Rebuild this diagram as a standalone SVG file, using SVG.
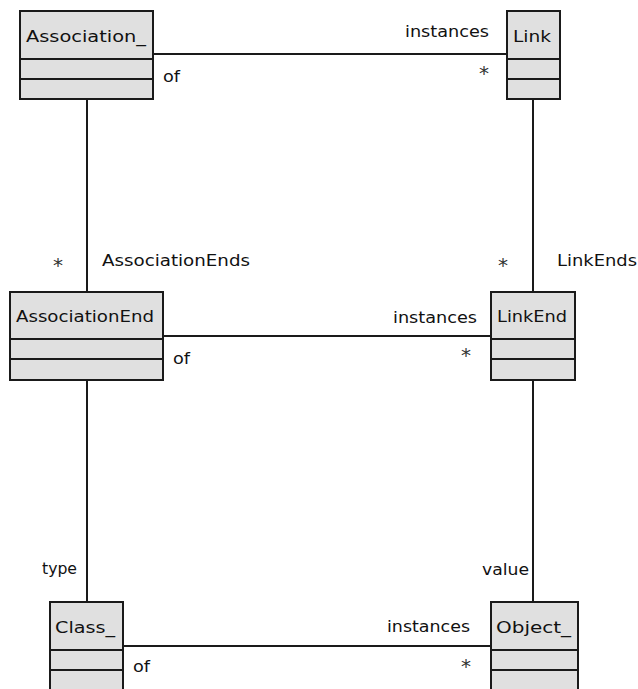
<svg xmlns="http://www.w3.org/2000/svg" width="638" height="689" viewBox="0 0 638 689">
<style>
.box{fill:#e0e0e0;stroke:#1a1a1a;stroke-width:2}
.div{stroke:#1a1a1a;stroke-width:2}
.conn{stroke:#1a1a1a;stroke-width:2;fill:none}
text{font-family:"DejaVu Sans","Liberation Sans",sans-serif;font-size:16px;fill:#111}
.star{font-size:20px;fill:#333}
</style>
<rect width="638" height="689" fill="#fff"/>
<g id="connectors">
<line class="conn" x1="153" y1="54" x2="507" y2="54"/>
<line class="conn" x1="87" y1="99" x2="87" y2="292"/>
<line class="conn" x1="533" y1="99" x2="533" y2="292"/>
<line class="conn" x1="163" y1="336" x2="491" y2="336"/>
<line class="conn" x1="87" y1="380" x2="87" y2="602"/>
<line class="conn" x1="533" y1="380" x2="533" y2="602"/>
<line class="conn" x1="123" y1="646" x2="491" y2="646"/>
<text x="163" y="82" textLength="17" lengthAdjust="spacingAndGlyphs">of</text>
<text x="405" y="37" textLength="84" lengthAdjust="spacingAndGlyphs">instances</text>
<text class="star" x="479" y="80">*</text>
<text class="star" x="53" y="272">*</text>
<text x="102" y="266" textLength="148" lengthAdjust="spacingAndGlyphs">AssociationEnds</text>
<text class="star" x="498" y="272">*</text>
<text x="557" y="266" textLength="80" lengthAdjust="spacingAndGlyphs">LinkEnds</text>
<text x="173" y="364" textLength="17" lengthAdjust="spacingAndGlyphs">of</text>
<text x="393" y="323" textLength="84" lengthAdjust="spacingAndGlyphs">instances</text>
<text class="star" x="461" y="362">*</text>
<text x="42" y="574" textLength="35" lengthAdjust="spacingAndGlyphs">type</text>
<text x="482" y="575" textLength="47" lengthAdjust="spacingAndGlyphs">value</text>
<text x="133" y="672" textLength="17" lengthAdjust="spacingAndGlyphs">of</text>
<text x="387" y="632" textLength="83" lengthAdjust="spacingAndGlyphs">instances</text>
<text class="star" x="461" y="673">*</text>
</g>
<g id="Association_">
<rect class="box" x="20" y="11" width="133" height="88"/>
<line class="div" x1="20" y1="59" x2="153" y2="59"/>
<line class="div" x1="20" y1="79" x2="153" y2="79"/>
<text x="26" y="42" textLength="120" lengthAdjust="spacingAndGlyphs">Association_</text>
</g>
<g id="Link">
<rect class="box" x="507" y="11" width="53" height="88"/>
<line class="div" x1="507" y1="59" x2="560" y2="59"/>
<line class="div" x1="507" y1="79" x2="560" y2="79"/>
<text x="513" y="42" textLength="38" lengthAdjust="spacingAndGlyphs">Link</text>
</g>
<g id="AssociationEnd">
<rect class="box" x="10" y="292" width="153" height="88"/>
<line class="div" x1="10" y1="339" x2="163" y2="339"/>
<line class="div" x1="10" y1="359" x2="163" y2="359"/>
<text x="16" y="322" textLength="138" lengthAdjust="spacingAndGlyphs">AssociationEnd</text>
</g>
<g id="LinkEnd">
<rect class="box" x="491" y="292" width="84" height="88"/>
<line class="div" x1="491" y1="339" x2="575" y2="339"/>
<line class="div" x1="491" y1="359" x2="575" y2="359"/>
<text x="497" y="322" textLength="70" lengthAdjust="spacingAndGlyphs">LinkEnd</text>
</g>
<g id="Class_">
<rect class="box" x="50" y="602" width="73" height="100"/>
<line class="div" x1="50" y1="650" x2="123" y2="650"/>
<line class="div" x1="50" y1="670" x2="123" y2="670"/>
<text x="55" y="633" textLength="60" lengthAdjust="spacingAndGlyphs">Class_</text>
</g>
<g id="Object_">
<rect class="box" x="491" y="602" width="87" height="100"/>
<line class="div" x1="491" y1="650" x2="578" y2="650"/>
<line class="div" x1="491" y1="670" x2="578" y2="670"/>
<text x="496" y="633" textLength="75" lengthAdjust="spacingAndGlyphs">Object_</text>
</g>
</svg>
